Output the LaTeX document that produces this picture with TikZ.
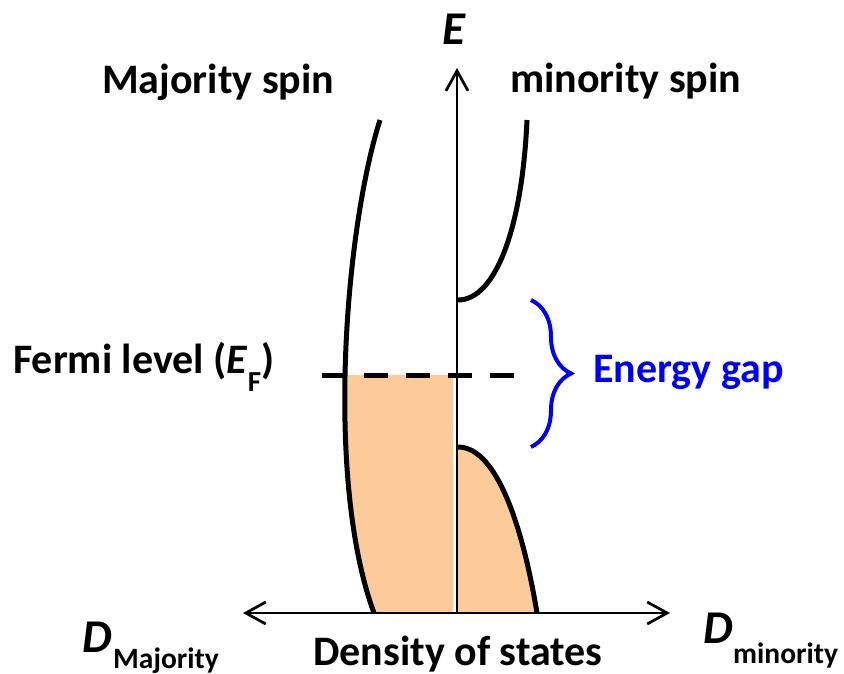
\documentclass[tikz,border=0pt]{standalone}
\usepackage{fontspec}
\setmainfont{Carlito}
\usetikzlibrary{arrows.meta,decorations.pathreplacing}
\definecolor{peach}{RGB}{253,203,153}
\definecolor{gapblue}{RGB}{0,0,255}
\begin{document}
\begin{tikzpicture}[x=1pt,y=-1pt,
  lbl/.style={font=\fontsize{42}{48}\selectfont\bfseries, inner sep=0pt},
  big/.style={font=\fontsize{47}{54}\selectfont\bfseries\itshape, inner sep=0pt},
  sublbl/.style={font=\fontsize{29.5}{33}\selectfont\bfseries, inner sep=0pt},
  curve/.style={line width=5pt},
  axisline/.style={line width=2.7pt},
  tip/.tip={Straight Barb[length=20pt,width=22pt,line width=2.7pt]}
]
\useasboundingbox (0,0) rectangle (844,674);
\coordinate (O) at (457,613);
\coordinate (Etop) at (457,68);
\coordinate (Dleft) at (243,613);
\coordinate (Dright) at (670,613);

% fills
\begin{scope}
\clip (0,375) rectangle (453,620);
\fill[peach] (380,120) .. controls (345,230) and (325,480) .. (374,613) -- (457,613) -- (457,120) -- cycle;
\end{scope}
\fill[peach] (458,447) .. controls (500,447) and (525,540) .. (537,613) -- (458,613) -- cycle;

% curves
\draw[curve] (380,120) .. controls (345,230) and (325,480) .. (374,613);
\draw[curve] (458,300) .. controls (495,300) and (522,230) .. (527,120);
\draw[curve] (458,447) .. controls (500,447) and (525,540) .. (537,613);

% axes
\draw[axisline, -tip] (O) -- (Etop);
\draw[axisline, tip-tip] (Dleft) -- (Dright);

% Fermi level
\draw[line width=5pt, dash pattern=on 24pt off 18pt] (322,375) -- (514,375);

% energy gap brace
\draw[gapblue, line width=4pt, decorate, decoration={brace, amplitude=40pt}] (531,300) -- (531,447);

% labels
\node[lbl, anchor=base west] (maj) at (102,94) {Majority spin};
\node[lbl, anchor=base west] (min) at (510,93) {minority spin};
\node[big, anchor=base] (E) at (454,45) {E};
\node[lbl, anchor=base west] (fermi) at (13,373) {Fermi level (\textit{E}\raisebox{-0.45em}{\fontsize{29}{32}\selectfont F})};
\node[lbl, anchor=base west, text=gapblue] (gap) at (593,382) {Energy gap};
\node[lbl, anchor=base west] (dos) at (313,665) {Density of states};
\node[big, anchor=base west] (Dmaj) at (82,652) {D};
\node[sublbl, anchor=base west] (Dmajsub) at (113,668) {Majority};
\node[big, anchor=base west] (Dmin) at (703,643) {D};
\node[sublbl, anchor=base west] (Dminsub) at (733,663) {minority};
\end{tikzpicture}
\end{document}
